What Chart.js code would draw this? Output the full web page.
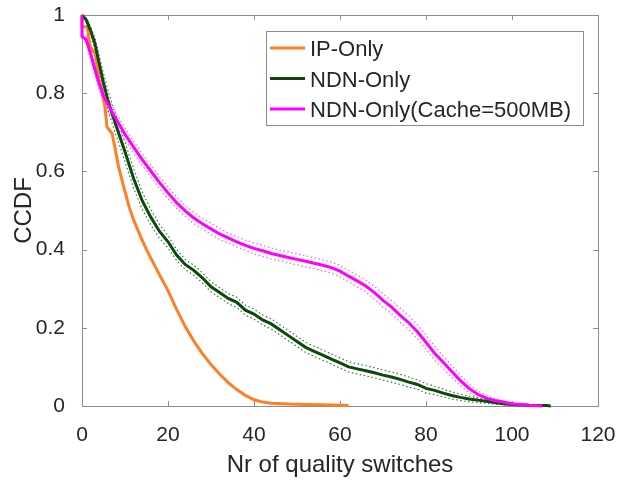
<!DOCTYPE html>
<html>
<head>
<meta charset="utf-8">
<script src="https://cdn.jsdelivr.net/npm/chart.js@4.4.0/dist/chart.umd.min.js"></script>
<style>
  html, body { margin: 0; padding: 0; background: #fff; }
  #wrap { width: 619px; height: 483px; }
</style>
</head>
<body>
<div id="wrap"><canvas id="cdf" width="619" height="483"></canvas></div>
<script>
// ---------- data ----------
const xTicks = [0, 20, 40, 60, 80, 100, 120];
const yTicks = [0, 0.2, 0.4, 0.6, 0.8, 1];

// IP-Only
const ipX = [0, 0, 1.2, 1.9, 2.7, 3.1, 3.9, 4.65, 5.4, 5.8,
  7, 7.75, 8.5, 9.3, 10, 11, 12, 13, 14, 15,
  16, 18, 20, 22, 24, 26, 28, 30, 32, 34,
  36, 38, 40, 42, 44, 48, 52, 56, 60, 62];
const ipY = [1, 0.97, 0.97, 0.92, 0.906, 0.902, 0.838, 0.804, 0.76, 0.714,
  0.697, 0.655, 0.612, 0.578, 0.548, 0.508, 0.476, 0.45, 0.424, 0.4,
  0.378, 0.336, 0.295, 0.247, 0.203, 0.166, 0.134, 0.106, 0.082, 0.06,
  0.042, 0.027, 0.016, 0.01, 0.007, 0.005, 0.004, 0.003, 0.002, 0.001];

// NDN-Only
const ndnX = [0, 1, 2, 3, 4, 5, 6, 7, 8,
  10, 12, 14, 16, 18, 20, 22, 24, 26, 28,
  30, 32, 34, 36, 38, 40, 42, 44, 46, 48,
  50, 52, 54, 56, 58, 60, 62, 64, 66, 68,
  70, 72, 74, 76, 78, 80, 82, 84, 86, 88,
  90, 92, 94, 96, 98, 100, 104, 108, 109];
const ndnY = [1, 0.987, 0.96, 0.927, 0.876, 0.826, 0.783, 0.748, 0.715,
  0.65, 0.582, 0.525, 0.483, 0.447, 0.42, 0.386, 0.362, 0.347, 0.328,
  0.305, 0.29, 0.275, 0.265, 0.245, 0.235, 0.22, 0.21, 0.195, 0.18,
  0.165, 0.15, 0.14, 0.13, 0.12, 0.11, 0.1, 0.095, 0.09, 0.085,
  0.079, 0.074, 0.068, 0.061, 0.055, 0.045, 0.04, 0.033, 0.027, 0.022,
  0.018, 0.015, 0.012, 0.009, 0.006, 0.004, 0.002, 0.001, 0];
const ndnHi = [1, 0.992, 0.97, 0.942, 0.896, 0.851, 0.808, 0.773, 0.74,
  0.675, 0.607, 0.547, 0.503, 0.465, 0.436, 0.4, 0.375, 0.36, 0.341,
  0.318, 0.303, 0.288, 0.278, 0.258, 0.248, 0.233, 0.223, 0.208, 0.193,
  0.178, 0.163, 0.153, 0.143, 0.133, 0.123, 0.113, 0.108, 0.103, 0.098,
  0.092, 0.087, 0.081, 0.074, 0.067, 0.057, 0.051, 0.043, 0.036, 0.030,
  0.025, 0.021, 0.017, 0.013, 0.009, 0.006, 0.003, 0.001, 0];
const ndnLo = [1, 0.982, 0.95, 0.912, 0.856, 0.801, 0.758, 0.723, 0.69,
  0.625, 0.557, 0.503, 0.463, 0.429, 0.404, 0.372, 0.349, 0.334, 0.315,
  0.292, 0.277, 0.262, 0.252, 0.232, 0.222, 0.207, 0.197, 0.182, 0.167,
  0.152, 0.137, 0.127, 0.117, 0.107, 0.097, 0.087, 0.082, 0.077, 0.072,
  0.066, 0.061, 0.055, 0.048, 0.043, 0.033, 0.029, 0.023, 0.018, 0.014,
  0.011, 0.009, 0.007, 0.005, 0.003, 0.002, 0.001, 0, 0];

// NDN-Only(Cache=500MB)
const cacheX = [0, 0, 1, 2, 3, 4, 5, 6, 7, 8,
  10, 12, 14, 16, 18, 20, 22, 24, 26, 28,
  30, 32, 34, 36, 38, 40, 42, 44, 46, 48,
  50, 52, 54, 56, 58, 60, 62, 64, 66, 68,
  70, 72, 74, 76, 78, 80, 82, 84, 86, 88,
  90, 92, 94, 96, 98, 100, 102, 104, 107];
const cacheY = [1, 0.945, 0.937, 0.9, 0.862, 0.824, 0.793, 0.772, 0.752, 0.733,
  0.695, 0.662, 0.63, 0.601, 0.572, 0.545, 0.52, 0.499, 0.481, 0.466,
  0.453, 0.44, 0.43, 0.42, 0.411, 0.403, 0.397, 0.39, 0.385, 0.38,
  0.375, 0.37, 0.365, 0.36, 0.354, 0.345, 0.332, 0.32, 0.307, 0.29,
  0.27, 0.253, 0.232, 0.213, 0.19, 0.163, 0.135, 0.112, 0.088, 0.065,
  0.045, 0.03, 0.02, 0.014, 0.01, 0.006, 0.004, 0.002, 0];
const cacheHi = [1, 0.951, 0.947, 0.915, 0.877, 0.839, 0.808, 0.787, 0.767, 0.748,
  0.71, 0.677, 0.645, 0.616, 0.587, 0.56, 0.535, 0.513, 0.495, 0.48,
  0.467, 0.454, 0.443, 0.433, 0.424, 0.417, 0.411, 0.404, 0.399, 0.394,
  0.389, 0.384, 0.379, 0.374, 0.368, 0.36, 0.347, 0.335, 0.322, 0.306,
  0.287, 0.27, 0.25, 0.231, 0.208, 0.181, 0.153, 0.128, 0.103, 0.078,
  0.056, 0.039, 0.027, 0.019, 0.013, 0.008, 0.005, 0.003, 0];
const cacheLo = [1, 0.939, 0.927, 0.885, 0.847, 0.809, 0.778, 0.757, 0.737, 0.718,
  0.68, 0.647, 0.615, 0.586, 0.557, 0.53, 0.505, 0.485, 0.467, 0.452,
  0.439, 0.426, 0.417, 0.407, 0.398, 0.389, 0.383, 0.376, 0.371, 0.366,
  0.361, 0.356, 0.351, 0.346, 0.34, 0.33, 0.317, 0.305, 0.292, 0.274,
  0.253, 0.236, 0.214, 0.195, 0.172, 0.145, 0.117, 0.096, 0.073, 0.052,
  0.034, 0.021, 0.013, 0.009, 0.007, 0.004, 0.003, 0.001, 0];

// ---------- helpers ----------
const pts = (xs, ys) => xs.map((x, i) => ({ x: x, y: ys[i] }));

function mainLine(label, xs, ys, color, order) {
  return {
    label: label, data: pts(xs, ys), borderColor: color, backgroundColor: color,
    borderWidth: 3, pointRadius: 0, tension: 0, order: order, clip: 6
  };
}
function bandLine(xs, ys, color) {
  return {
    label: "", band: true, data: pts(xs, ys), borderColor: color,
    borderWidth: 1.2, borderDash: [1.5, 2.5], pointRadius: 0, tension: 0, order: 10, clip: 6
  };
}

const AXIS_GRAY = "#8c8c8c";
const TEXT_COL = "#262626";
const FONT = "'Liberation Sans', Arial, sans-serif";

// box + inward ticks (MATLAB style)
const boxPlugin = {
  id: "box",
  beforeDatasetsDraw(chart) {
    const { ctx, chartArea: a, scales } = chart;
    ctx.save();
    ctx.strokeStyle = AXIS_GRAY;
    ctx.lineWidth = 1;
    ctx.strokeRect(a.left + 0.5, a.top + 0.5, a.right - a.left, a.bottom - a.top);
    ctx.beginPath();
    xTicks.forEach(v => {
      const px = Math.round(scales.x.getPixelForValue(v)) + 0.5;
      ctx.moveTo(px, a.bottom); ctx.lineTo(px, a.bottom - 5);
      ctx.moveTo(px, a.top); ctx.lineTo(px, a.top + 5);
    });
    yTicks.forEach(v => {
      const py = Math.round(scales.y.getPixelForValue(v)) + 0.5;
      ctx.moveTo(a.left, py); ctx.lineTo(a.left + 5, py);
      ctx.moveTo(a.right, py); ctx.lineTo(a.right - 5, py);
    });
    ctx.stroke();
    ctx.restore();
  }
};

// legend box in the top right of the axes
const legendPlugin = {
  id: "boxLegend",
  afterDraw(chart) {
    const ctx = chart.ctx;
    const items = chart.data.datasets.filter(d => !d.band);
    ctx.save();
    ctx.fillStyle = "#fff";
    ctx.fillRect(266, 31, 317, 94);
    ctx.strokeStyle = AXIS_GRAY;
    ctx.lineWidth = 1;
    ctx.strokeRect(266.5, 31.5, 317, 94);
    ctx.font = "22px " + FONT;
    ctx.textBaseline = "alphabetic";
    items.forEach((d, i) => {
      const y = 48 + i * 30.5;
      ctx.strokeStyle = d.borderColor;
      ctx.lineWidth = 3;
      ctx.beginPath();
      ctx.moveTo(270, y); ctx.lineTo(305, y);
      ctx.stroke();
      ctx.fillStyle = TEXT_COL;
      ctx.fillText(d.label, 310, y + 8);
    });
    ctx.restore();
  }
};

new Chart(document.getElementById("cdf"), {
  type: "line",
  data: {
    datasets: [
      mainLine("IP-Only", ipX, ipY, "#ff7f27", 3),
      mainLine("NDN-Only", ndnX, ndnY, "#0b4a0b", 2),
      mainLine("NDN-Only(Cache=500MB)", cacheX, cacheY, "#ff00ff", 1),
      bandLine(ndnX, ndnHi, "rgba(50,95,50,0.9)"),
      bandLine(ndnX, ndnLo, "rgba(50,95,50,0.9)"),
      bandLine(cacheX, cacheHi, "rgba(255,70,255,0.9)"),
      bandLine(cacheX, cacheLo, "rgba(255,70,255,0.9)")
    ]
  },
  options: {
    responsive: false,
    devicePixelRatio: 1,
    animation: false,
    layout: { padding: { top: 15, right: 21, left: 0, bottom: 0 } },
    plugins: { legend: { display: false }, tooltip: { enabled: false } },
    scales: {
      x: {
        type: "linear", min: 0, max: 120,
        afterBuildTicks: s => { s.ticks = xTicks.map(v => ({ value: v })); },
        afterFit: s => { s.height = 77; s.paddingLeft = 0; s.paddingRight = 0; },
        grid: { display: false }, border: { display: false },
        ticks: { color: TEXT_COL, padding: 9, font: { family: FONT, size: 21 } },
        title: {
          display: true, text: "Nr of quality switches", color: TEXT_COL,
          font: { family: FONT, size: 24 }, padding: { top: 0, bottom: 3 }
        }
      },
      y: {
        type: "linear", min: 0, max: 1,
        afterBuildTicks: s => { s.ticks = yTicks.map(v => ({ value: v })); },
        afterFit: s => { s.width = 82; s.paddingTop = 0; s.paddingBottom = 0; },
        grid: { display: false }, border: { display: false },
        ticks: {
          color: TEXT_COL, padding: 9, font: { family: FONT, size: 21 },
          callback: v => String(Math.round(v * 10) / 10)
        },
        title: {
          display: true, text: "CCDF", color: TEXT_COL,
          font: { family: FONT, size: 24 }, padding: { top: 10, bottom: 0 }
        }
      }
    }
  },
  plugins: [boxPlugin, legendPlugin]
});
</script>
</body>
</html>
